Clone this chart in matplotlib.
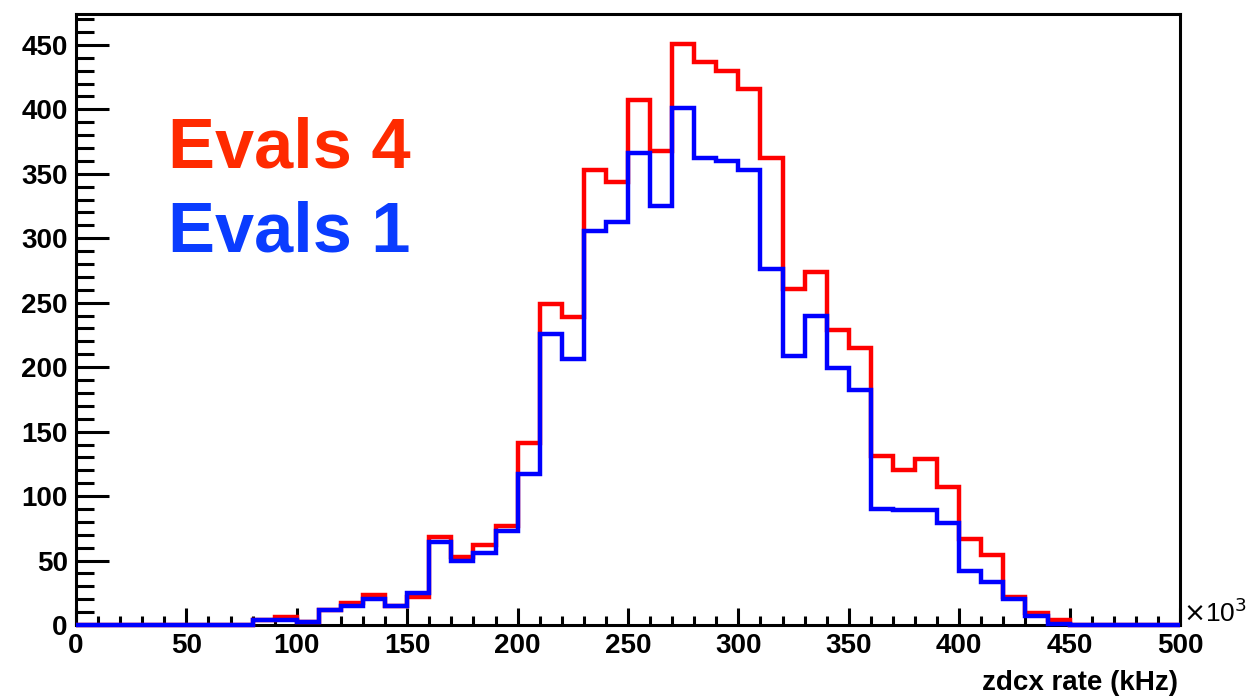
import numpy as np
import matplotlib
matplotlib.use("Agg")
import matplotlib.pyplot as plt
from matplotlib.ticker import MultipleLocator

plt.rcParams['font.family'] = ['Liberation Sans', 'DejaVu Sans']

# bin edges in units of 10^3 (0..500, width 10)
bin_edges = np.arange(0, 510, 10)

# Evals 4 (red) counts per bin
evals4 = [0, 0, 0, 0, 0, 0, 0, 0, 4, 6,
          2, 12, 17, 23, 15, 22, 68, 53, 62, 77,
          141, 249, 239, 353, 344, 407, 368, 451, 437, 430,
          416, 362, 261, 274, 229, 215, 131, 120, 129, 107,
          67, 54, 22, 9, 4, 0, 0, 0, 0, 0]

# Evals 1 (blue) counts per bin
evals1 = [0, 0, 0, 0, 0, 0, 0, 0, 4, 4,
          2, 12, 15, 20, 15, 25, 64, 50, 56, 73,
          117, 226, 206, 306, 313, 366, 325, 401, 362, 360,
          353, 276, 209, 240, 199, 182, 90, 89, 89, 79,
          42, 33, 20, 7, 1, 0, 0, 0, 0, 0]

fig = plt.figure(figsize=(12.5, 6.98), dpi=100)
ax = fig.add_axes([0.0608, 0.1046, 0.944 - 0.0608, 0.980 - 0.1046])

ax.stairs(evals4, bin_edges, color='#ff0000', lw=3.2, zorder=3, clip_on=False)
ax.stairs(evals1, bin_edges, color='#0000ff', lw=3.2, zorder=4, clip_on=False)

ax.set_xlim(0, 500)
ax.set_ylim(0, 474)

ax.xaxis.set_major_locator(MultipleLocator(50))
ax.xaxis.set_minor_locator(MultipleLocator(10))
ax.yaxis.set_major_locator(MultipleLocator(50))
ax.yaxis.set_minor_locator(MultipleLocator(10))

ax.tick_params(axis='both', which='both', direction='in', width=2.2,
               top=False, right=False, labelsize=20)
ax.tick_params(axis='y', which='major', length=24, pad=6)
ax.tick_params(axis='y', which='minor', length=13)
ax.tick_params(axis='x', which='major', length=12, pad=6)
ax.tick_params(axis='x', which='minor', length=6.5)
for lab in ax.get_xticklabels() + ax.get_yticklabels():
    lab.set_fontweight('bold')

for sp in ax.spines.values():
    sp.set_linewidth(2.2)

fig.text(168 / 1250, 1 - 167 / 698, 'Evals 4', color='#ff2a00', fontsize=50.7,
         fontweight='bold', va='baseline', ha='left')
fig.text(168 / 1250, 1 - 252 / 698, 'Evals 1', color='#0a3cff', fontsize=50.7,
         fontweight='bold', va='baseline', ha='left')

fig.text(1183 / 1250, 1 - 622 / 698, r'$\times$10$^{3}$', fontsize=19,
         va='baseline', ha='left')
fig.text(1178 / 1250, 1 - 690 / 698, 'zdcx rate (kHz)', fontsize=20,
         fontweight='bold', va='baseline', ha='right')

fig.savefig('out.png', dpi=100)
